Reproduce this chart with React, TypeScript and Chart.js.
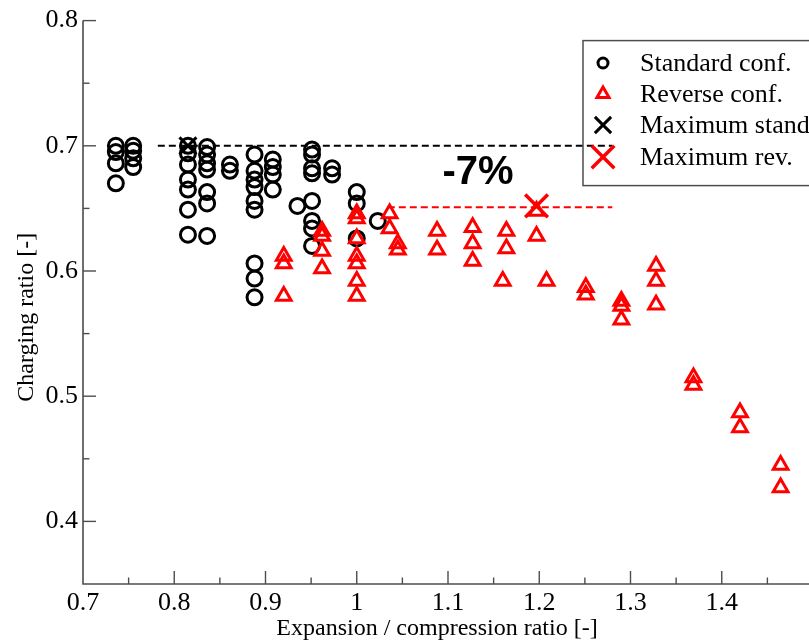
import React, { useEffect, useRef } from 'react';
import { Chart, registerables } from 'chart.js';

Chart.register(...registerables);

// ---- data ----
const standardX = [
  0.736, 0.736, 0.736, 0.736,
  0.755, 0.755, 0.755, 0.755,
  0.815, 0.815, 0.815, 0.815, 0.815, 0.815, 0.815,
  0.836, 0.836, 0.836, 0.836, 0.836, 0.836, 0.836,
  0.861, 0.861,
  0.888, 0.888, 0.888, 0.888, 0.888, 0.888, 0.888, 0.888, 0.888,
  0.908, 0.908, 0.908, 0.908,
  0.935,
  0.951, 0.951, 0.951, 0.951, 0.951, 0.951, 0.951, 0.951,
  0.973, 0.973,
  1.0, 1.0, 1.0,
  1.023,
];
const standardY = [
  0.700, 0.695, 0.686, 0.670,
  0.700, 0.696, 0.690, 0.683,
  0.700, 0.694, 0.685, 0.673, 0.665, 0.649, 0.629,
  0.699, 0.693, 0.686, 0.681, 0.663, 0.654, 0.628,
  0.685, 0.680,
  0.693, 0.680, 0.673, 0.667, 0.656, 0.649, 0.606, 0.594, 0.579,
  0.689, 0.683, 0.677, 0.665,
  0.652,
  0.697, 0.693, 0.682, 0.678, 0.656, 0.640, 0.634, 0.620,
  0.682, 0.677,
  0.663, 0.654, 0.626,
  0.640,
];

const reverseX = [
  0.92, 0.92, 0.92,
  0.962, 0.962, 0.962, 0.962,
  1.0, 1.0, 1.0, 1.0, 1.0, 1.0, 1.0,
  1.036, 1.036,
  1.045, 1.045,
  1.088, 1.088,
  1.127, 1.127, 1.127,
  1.164, 1.164, 1.160,
  1.197, 1.197,
  1.208,
  1.251, 1.251,
  1.290, 1.290, 1.290,
  1.328, 1.328, 1.328,
  1.369, 1.369,
  1.420, 1.420,
  1.4645, 1.4645,
];
const reverseY = [
  0.612, 0.606, 0.580,
  0.632, 0.628, 0.616, 0.602,
  0.646, 0.642, 0.626, 0.612, 0.606, 0.592, 0.580,
  0.646, 0.634,
  0.622, 0.617,
  0.632, 0.617,
  0.635, 0.622, 0.608,
  0.632, 0.618, 0.592,
  0.648, 0.628,
  0.592,
  0.587, 0.581,
  0.576, 0.572, 0.561,
  0.604, 0.592, 0.573,
  0.515, 0.509,
  0.487, 0.475,
  0.445, 0.427,
];

const maxStandardX = [0.815];
const maxStandardY = [0.700];
const maxReverseX = [1.197];
const maxReverseY = [0.652];

const standardRefX = [0.782, 1.28];
const standardRefY = [0.7, 0.7];
const reverseRefX = [1.034, 1.28];
const reverseRefY = [0.651, 0.651];

const xTicks = [0.7, 0.8, 0.9, 1.0, 1.1, 1.2, 1.3, 1.4];
const xTickLabels = ['0.7', '0.8', '0.9', '1', '1.1', '1.2', '1.3', '1.4'];
const xMinorTicks = [0.75, 0.85, 0.95, 1.05, 1.15, 1.25, 1.35, 1.45];
const yTicks = [0.4, 0.5, 0.6, 0.7, 0.8];
const yTickLabels = ['0.4', '0.5', '0.6', '0.7', '0.8'];
const yMinorTicks = [0.45, 0.55, 0.65, 0.75];

const legendLabels = ['Standard conf.', 'Reverse conf.', 'Maximum standard conf.', 'Maximum rev.'];
const xTitle = 'Expansion / compression ratio [-]';
const yTitle = 'Charging ratio [-]';
const noteText = '-7%';
const notePosX = [1.133];
const notePosY = [0.678];

const toPoints = (xs: number[], ys: number[]) => xs.map((x, i) => ({ x, y: ys[i] }));

const SERIF = '"Liberation Serif", "Times New Roman", serif';
const RED = '#ff0000';
const AXIS = '#4d4d4d';

function drawMarker(ctx: CanvasRenderingContext2D, style: string, x: number, y: number, r: number, color: string, lw: number) {
  ctx.save();
  ctx.strokeStyle = color;
  ctx.lineWidth = lw;
  ctx.beginPath();
  if (style === 'circle') {
    ctx.arc(x, y, r, 0, Math.PI * 2);
  } else if (style === 'triangle') {
    let rad = 0;
    const step = (2 * Math.PI) / 3;
    ctx.moveTo(x + Math.sin(rad) * r, y - Math.cos(rad) * r);
    rad += step;
    ctx.lineTo(x + Math.sin(rad) * r, y - Math.cos(rad) * r);
    rad += step;
    ctx.lineTo(x + Math.sin(rad) * r, y - Math.cos(rad) * r);
    ctx.closePath();
  } else {
    const d = r * Math.SQRT1_2;
    ctx.moveTo(x - d, y - d);
    ctx.lineTo(x + d, y + d);
    ctx.moveTo(x + d, y - d);
    ctx.lineTo(x - d, y + d);
  }
  ctx.stroke();
  ctx.restore();
}

const decorPlugin = {
  id: 'decor',
  beforeDraw(chart: any) {
    const { ctx, width, height } = chart;
    ctx.save();
    ctx.fillStyle = '#ffffff';
    ctx.fillRect(0, 0, width, height);
    ctx.restore();
  },
  afterDatasetsDraw(chart: any) {
    const { ctx, chartArea, scales } = chart;
    const { left, right, top, bottom } = chartArea;
    const xs = scales.x;
    const ys = scales.y;
    ctx.save();
    // axes
    ctx.strokeStyle = AXIS;
    ctx.lineWidth = 1.6;
    ctx.beginPath();
    ctx.moveTo(left, top);
    ctx.lineTo(left, bottom);
    ctx.lineTo(right, bottom);
    ctx.stroke();
    ctx.lineWidth = 1.4;
    const tick = (x1: number, y1: number, x2: number, y2: number) => {
      ctx.beginPath();
      ctx.moveTo(x1, y1);
      ctx.lineTo(x2, y2);
      ctx.stroke();
    };
    xTicks.slice(1).forEach((v) => { const p = xs.getPixelForValue(v); tick(p, bottom, p, bottom - 13); });
    xMinorTicks.forEach((v) => { const p = xs.getPixelForValue(v); tick(p, bottom, p, bottom - 6.5); });
    yTicks.forEach((v) => { const p = ys.getPixelForValue(v); tick(left, p, left + 13, p); });
    yMinorTicks.forEach((v) => { const p = ys.getPixelForValue(v); tick(left, p, left + 6.5, p); });

    // annotation
    ctx.fillStyle = '#000';
    ctx.font = 'bold 40px "Liberation Sans", Arial, sans-serif';
    ctx.textAlign = 'center';
    ctx.textBaseline = 'middle';
    ctx.fillText(noteText, xs.getPixelForValue(notePosX[0]), ys.getPixelForValue(notePosY[0]));

    // axis titles
    ctx.font = `24px ${SERIF}`;
    ctx.textAlign = 'center';
    ctx.textBaseline = 'alphabetic';
    ctx.fillText(xTitle, left + 354, bottom + 51);
    ctx.save();
    ctx.translate(33, top + (bottom - top) * 0.5 + 15);
    ctx.rotate(-Math.PI / 2);
    ctx.fillText(yTitle, 0, 0);
    ctx.restore();

    // legend
    const bx = left + 500;
    const by = top + 20;
    ctx.strokeStyle = AXIS;
    ctx.lineWidth = 1.5;
    ctx.strokeRect(bx, by, 300, 145);
    const rows = [
      { style: 'circle', r: 5, color: '#000', lw: 3, y: 63 },
      { style: 'triangle', r: 7, color: RED, lw: 3, y: 94 },
      { style: 'crossRot', r: 11.5, color: '#000', lw: 3, y: 125 },
      { style: 'crossRot', r: 16, color: RED, lw: 3.5, y: 157 },
    ];
    ctx.font = `26px ${SERIF}`;
    ctx.textAlign = 'left';
    ctx.textBaseline = 'middle';
    ctx.fillStyle = '#000';
    rows.forEach((row, i) => {
      drawMarker(ctx, row.style, bx + 20, row.y, row.r, row.color, row.lw);
      ctx.fillText(legendLabels[i], bx + 57, row.y + 1);
    });
    ctx.restore();
  },
};

export default function App() {
  const canvasRef = useRef<HTMLCanvasElement | null>(null);

  useEffect(() => {
    if (!canvasRef.current) return;
    const chart = new Chart(canvasRef.current, {
      type: 'scatter',
      data: {
        datasets: [
          {
            label: legendLabels[3],
            data: toPoints(maxReverseX, maxReverseY),
            pointStyle: 'crossRot',
            pointRadius: 16,
            borderColor: RED,
            backgroundColor: RED,
            borderWidth: 3.5,
          },
          {
            label: legendLabels[2],
            data: toPoints(maxStandardX, maxStandardY),
            pointStyle: 'crossRot',
            pointRadius: 12,
            borderColor: '#000',
            backgroundColor: '#000',
            borderWidth: 3,
          },
          {
            label: legendLabels[1],
            data: toPoints(reverseX, reverseY),
            pointStyle: 'triangle',
            pointRadius: 8.5,
            borderColor: RED,
            backgroundColor: 'rgba(0,0,0,0)',
            borderWidth: 3,
          },
          {
            label: legendLabels[0],
            data: toPoints(standardX, standardY),
            pointStyle: 'circle',
            pointRadius: 7.5,
            borderColor: '#000',
            backgroundColor: 'rgba(0,0,0,0)',
            borderWidth: 3,
          },
          {
            label: 'ref-rev',
            data: toPoints(reverseRefX, reverseRefY),
            showLine: true,
            pointRadius: 0,
            borderColor: RED,
            borderWidth: 2,
            borderDash: [7, 4],
            fill: false,
          },
          {
            label: 'ref-std',
            data: toPoints(standardRefX, standardRefY),
            showLine: true,
            pointRadius: 0,
            borderColor: '#000',
            borderWidth: 2,
            borderDash: [7, 4],
            fill: false,
          },
        ],
      },
      options: {
        animation: false,
        responsive: false,
        layout: { padding: { top: 18, right: 27, left: 0, bottom: 0 } },
        plugins: { legend: { display: false }, tooltip: { enabled: false } },
        scales: {
          x: {
            type: 'linear',
            min: 0.7,
            max: 1.5,
            grid: { display: false, drawTicks: false },
            border: { display: false },
            afterBuildTicks: (s: any) => { s.ticks = xTicks.map((v) => ({ value: v })); },
            afterFit: (s: any) => { s.height = 57; },
            ticks: {
              callback: (_v: any, i: number) => xTickLabels[i],
              font: { family: SERIF, size: 26 },
              color: '#000',
              padding: 4,
              maxRotation: 0,
            },
          },
          y: {
            type: 'linear',
            min: 0.35,
            max: 0.8,
            grid: { display: false, drawTicks: false },
            border: { display: false },
            afterBuildTicks: (s: any) => { s.ticks = yTicks.map((v) => ({ value: v })); },
            afterFit: (s: any) => { s.width = 83; },
            ticks: {
              callback: (_v: any, i: number) => yTickLabels[i],
              font: { family: SERIF, size: 26 },
              color: '#000',
              padding: 5,
            },
          },
        },
      },
      plugins: [decorPlugin],
    } as any);
    return () => chart.destroy();
  }, []);

  return (
    <div style={{ position: 'fixed', left: 0, top: 0, width: 809, height: 641, overflow: 'hidden', background: '#fff' }}>
      <canvas ref={canvasRef} width={840} height={641} style={{ display: 'block' }} />
    </div>
  );
}
